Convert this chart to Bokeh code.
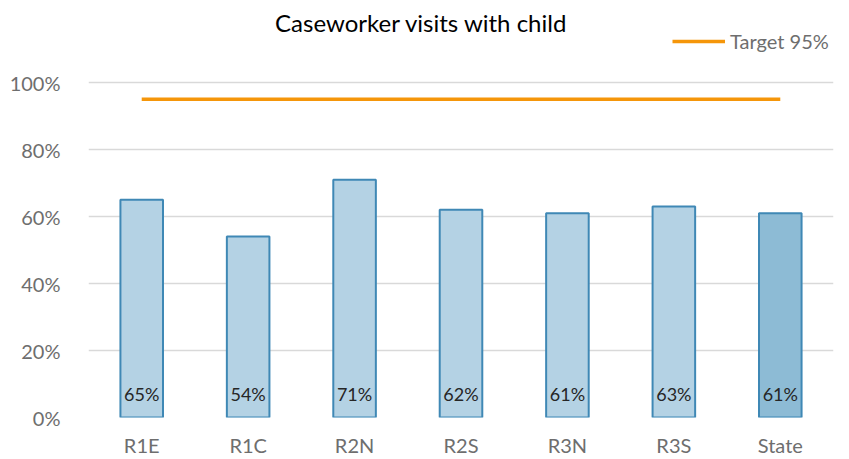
from bokeh.plotting import figure
from bokeh.models import (Range1d, FixedTicker, NumeralTickFormatter, Label,
                          Legend, LegendItem, ColumnDataSource)
from bokeh.embed import file_html
from bokeh.resources import INLINE
from bokeh.core.properties import value

categories = ["R1E", "R1C", "R2N", "R2S", "R3N", "R3S", "State"]
visit_rates = [0.65, 0.54, 0.71, 0.62, 0.61, 0.63, 0.61]
target_rate = 0.95
y_ticks = [0.0, 0.2, 0.4, 0.6, 0.8, 1.0]

FONT = "Lato"
light = "#B4D2E4"
dark = "#8DBBD5"
fills = [dark if c == "State" else light for c in categories]
labels = [f"{round(v*100)}%" for v in visit_rates]

src = ColumnDataSource(dict(cat=categories, val=visit_rates, fill=fills, lab=labels))

p = figure(width=849, height=459, x_range=categories,
           y_range=Range1d(0, 417 / 335), output_backend="svg",
           toolbar_location=None, min_border_left=88, min_border_right=16,
           min_border_top=0, min_border_bottom=42)
p.outline_line_color = None

p.vbar(x="cat", top="val", width=0.4, source=src, fill_color="fill",
       line_color="#3F88B5", line_width=2)

p.text(x="cat", y=0, text="lab", source=src, text_align="center",
       text_baseline="middle", y_offset=-24, text_font=value(FONT),
       text_font_size="18px", text_color="#262626")

tline = p.line(x=categories, y=[target_rate] * len(categories),
               line_color="#F5960A", line_width=3.5)

legend = Legend(items=[LegendItem(label="Target 95%", renderers=[tline])],
                location=(584, 364), orientation="horizontal",
                glyph_width=53, glyph_height=22, label_standoff=5,
                padding=0, margin=0, spacing=0,
                border_line_alpha=0, background_fill_alpha=0,
                label_text_font=FONT, label_text_font_size="20px",
                label_text_color="#6E6E6E")
p.add_layout(legend, "center")

title = Label(x=333, y=395, x_units="screen", y_units="screen",
              text="Caseworker visits with child", text_align="center",
              text_baseline="middle", text_font=FONT,
              text_font_size="24px", text_color="#000000")
p.add_layout(title)

p.yaxis.ticker = FixedTicker(ticks=y_ticks)
p.yaxis.formatter = NumeralTickFormatter(format="0%")
for ax in (p.xaxis[0], p.yaxis[0]):
    ax.axis_line_color = None
    ax.major_tick_line_color = None
    ax.minor_tick_line_color = None
    ax.major_label_text_font = FONT
    ax.major_label_text_font_size = "20px"
    ax.major_label_text_color = "#6E6E6E"
p.yaxis.major_label_standoff = 22
p.xaxis.major_label_standoff = 9

p.xgrid.grid_line_color = None
p.ygrid.ticker = FixedTicker(ticks=y_ticks)
p.ygrid.grid_line_color = "#D9D9D9"
p.ygrid.grid_line_width = 1.5

open("out.html", "w").write(file_html(p, INLINE))
